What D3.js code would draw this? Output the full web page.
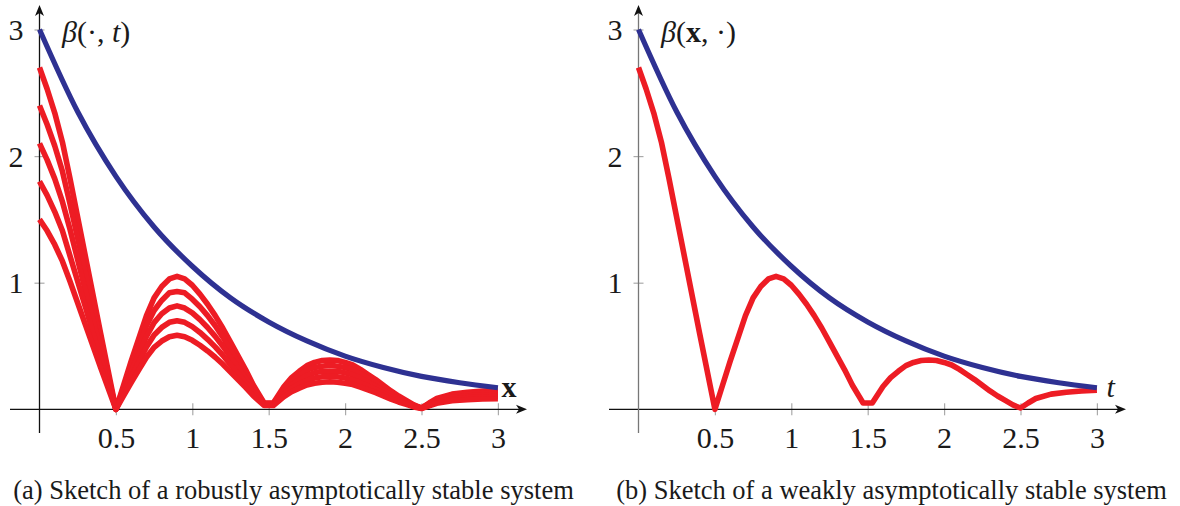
<!DOCTYPE html>
<html><head><meta charset="utf-8">
<script src="https://cdn.jsdelivr.net/npm/d3@7"></script>
<style>body{margin:0;background:#fff;} svg{display:block;}</style>
</head><body>
<svg id="chart" width="1180" height="506"></svg>
<script>
// ---------- data ----------
const tGrid = [0, 0.05, 0.1, 0.15, 0.2, 0.3, 0.4, 0.5,
  0.55, 0.6, 0.65, 0.7, 0.75, 0.8, 0.85, 0.9, 0.95, 1.0, 1.05, 1.1, 1.15, 1.2, 1.25, 1.3, 1.35, 1.4,
  1.47, 1.53,
  1.6, 1.65, 1.7, 1.75, 1.8, 1.85, 1.9, 1.95, 2.0, 2.05, 2.1, 2.15, 2.2, 2.25, 2.3, 2.35, 2.4, 2.45, 2.5, 2.55, 2.6,
  2.7, 2.8, 2.9, 3.0];

const robust1 = [2.70, 2.53, 2.34, 2.11, 1.82, 1.21, 0.60, 0.00,
  0.19, 0.38, 0.56, 0.74, 0.88, 0.97, 1.03, 1.05, 1.03, 0.98, 0.91, 0.83, 0.74, 0.64, 0.53, 0.42, 0.31, 0.19,
  0.05, 0.05,
  0.18, 0.25, 0.30, 0.345, 0.37, 0.385, 0.39, 0.385, 0.37, 0.35, 0.315, 0.275, 0.235, 0.19, 0.145, 0.105, 0.07, 0.035, 0.01, 0.05, 0.085,
  0.12, 0.135, 0.145, 0.15];
const robust2 = [2.40, 2.25, 2.08, 1.88, 1.62, 1.08, 0.53, 0.00,
  0.17, 0.34, 0.50, 0.66, 0.78, 0.86, 0.92, 0.93, 0.92, 0.87, 0.81, 0.74, 0.66, 0.57, 0.47, 0.37, 0.28, 0.17,
  0.045, 0.045,
  0.16, 0.22, 0.27, 0.31, 0.33, 0.34, 0.35, 0.34, 0.33, 0.31, 0.28, 0.245, 0.21, 0.17, 0.13, 0.093, 0.062, 0.031, 0.01, 0.044, 0.076,
  0.107, 0.12, 0.129, 0.133];
const robust3 = [2.10, 1.97, 1.82, 1.64, 1.42, 0.94, 0.47, 0.00,
  0.148, 0.296, 0.436, 0.576, 0.685, 0.755, 0.80, 0.817, 0.80, 0.762, 0.708, 0.646, 0.576, 0.498, 0.412, 0.327, 0.241, 0.148,
  0.04, 0.04,
  0.14, 0.195, 0.233, 0.268, 0.288, 0.30, 0.303, 0.30, 0.288, 0.272, 0.245, 0.214, 0.183, 0.148, 0.113, 0.082, 0.054, 0.027, 0.01, 0.039, 0.066,
  0.093, 0.105, 0.113, 0.117];
const robust4 = [1.80, 1.69, 1.56, 1.41, 1.21, 0.81, 0.40, 0.00,
  0.127, 0.253, 0.373, 0.493, 0.587, 0.647, 0.687, 0.70, 0.687, 0.653, 0.607, 0.553, 0.493, 0.427, 0.353, 0.28, 0.207, 0.127,
  0.035, 0.035,
  0.12, 0.167, 0.20, 0.23, 0.247, 0.257, 0.26, 0.257, 0.247, 0.233, 0.21, 0.183, 0.157, 0.127, 0.097, 0.07, 0.047, 0.023, 0.008, 0.033, 0.057,
  0.08, 0.09, 0.097, 0.10];
const robust5 = [1.50, 1.41, 1.30, 1.17, 1.01, 0.67, 0.33, 0.00,
  0.106, 0.211, 0.311, 0.411, 0.489, 0.539, 0.573, 0.584, 0.573, 0.545, 0.506, 0.461, 0.411, 0.356, 0.295, 0.234, 0.172, 0.106,
  0.03, 0.03,
  0.10, 0.139, 0.167, 0.192, 0.206, 0.214, 0.217, 0.214, 0.206, 0.195, 0.175, 0.153, 0.131, 0.106, 0.081, 0.058, 0.039, 0.019, 0.006, 0.028, 0.047,
  0.067, 0.075, 0.081, 0.083];
const weak = [2.70, 2.53, 2.34, 2.11, 1.82, 1.21, 0.60, 0.00,
  0.19, 0.38, 0.56, 0.74, 0.88, 0.97, 1.03, 1.05, 1.03, 0.98, 0.91, 0.83, 0.74, 0.64, 0.53, 0.42, 0.31, 0.19,
  0.05, 0.05,
  0.18, 0.25, 0.30, 0.345, 0.37, 0.385, 0.39, 0.385, 0.37, 0.35, 0.315, 0.275, 0.235, 0.19, 0.145, 0.105, 0.07, 0.035, 0.01, 0.05, 0.085,
  0.12, 0.135, 0.145, 0.15];

const tBound = [0, 0.25, 0.5, 0.75, 1.0, 1.25, 1.5, 1.75, 2.0, 2.25, 2.5, 2.75, 3.0];
const bound  = [3.00, 2.35, 1.84, 1.44, 1.13, 0.88, 0.69, 0.54, 0.42, 0.33, 0.26, 0.21, 0.17];

const xTicks = [0.5, 1, 1.5, 2, 2.5, 3];
const xTickLabels = ["0.5", "1", "1.5", "2", "2.5", "3"];
const yTicks = [1, 2, 3];
const yTickLabels = ["1", "2", "3"];
const captions = ["(a) Sketch of a robustly asymptotically stable system",
                  "(b) Sketch of a weakly asymptotically stable system"];

// ---------- drawing ----------
const RED = "#ed1c24", BLUE = "#2e3192";
const FONT = "'Liberation Serif', 'Times New Roman', serif";
const svg = d3.select("#chart");
const yScale = d3.scaleLinear().domain([0, 3]).range([409.3, 29.5]);
const y0 = yScale(0);

const panels = [
  { x0: 39.5, curves: [robust1, robust2, robust3, robust4, robust5], yAxisColor: "#111",
    caption: captions[0], capCenter: 293.5, capWidth: 561, xLabel: "x" },
  { x0: 638.5, curves: [weak], yAxisColor: "#777",
    caption: captions[1], capCenter: 891.5, capWidth: 551, xLabel: "t" }
];

panels.forEach((p, pi) => {
  const g = svg.append("g");
  const xScale = d3.scaleLinear().domain([0, 3]).range([p.x0, p.x0 + 458.4]);

  // x axis ticks + labels (via d3 axis)
  const xAxis = d3.axisBottom(xScale).tickValues(xTicks)
    .tickFormat((d, i) => xTickLabels[i]).tickSizeOuter(0);
  const gx = g.append("g").attr("transform", `translate(0,${y0})`).call(xAxis);
  gx.select(".domain").remove();
  gx.selectAll(".tick line").attr("y1", -6).attr("y2", 6).attr("stroke", "#aaa").attr("stroke-width", 1.2);
  gx.selectAll(".tick text").attr("y", 38.5).attr("dy", null)
    .attr("font-family", FONT).attr("font-size", 30).attr("fill", "#1a1a1a");

  // y axis ticks + labels
  const yAxis = d3.axisLeft(yScale).tickValues(yTicks)
    .tickFormat((d, i) => yTickLabels[i]).tickSizeOuter(0);
  const gy = g.append("g").attr("transform", `translate(${p.x0},0)`).call(yAxis);
  gy.select(".domain").remove();
  gy.selectAll(".tick line").attr("x1", -5).attr("x2", 5).attr("stroke", "#aaa").attr("stroke-width", 1.2);
  gy.selectAll(".tick text").attr("x", -16).attr("dy", "0.34em")
    .attr("font-family", FONT).attr("font-size", 30).attr("fill", "#1a1a1a");

  // axis lines with arrows
  const xStart = p.x0 - 29.5, xTip = p.x0 + 487.5;
  g.append("line").attr("x1", xStart).attr("x2", xTip - 6).attr("y1", y0).attr("y2", y0)
    .attr("stroke", "#111").attr("stroke-width", 1.3);
  g.append("path").attr("d", `M${xTip},${y0} L${xTip - 11},${y0 - 4.5} L${xTip - 8},${y0} L${xTip - 11},${y0 + 4.5} Z`)
    .attr("fill", "#111");
  const yTop = 5, yBottom = 433;
  g.append("line").attr("x1", p.x0).attr("x2", p.x0).attr("y1", yBottom).attr("y2", yTop + 6)
    .attr("stroke", p.yAxisColor).attr("stroke-width", 1.3);
  g.append("path").attr("d", `M${p.x0},${yTop} L${p.x0 - 4.5},${yTop + 11} L${p.x0},${yTop + 8} L${p.x0 + 4.5},${yTop + 11} Z`)
    .attr("fill", "#111");

  // red curves
  const redLine = d3.line().x((d, i) => xScale(tGrid[i])).y(d => yScale(d)).curve(d3.curveLinear);
  g.append("g").selectAll("path").data(p.curves).join("path")
    .attr("d", d => redLine(d))
    .attr("fill", "none").attr("stroke", RED).attr("stroke-width", 5.6)
    .attr("stroke-linejoin", "round").attr("stroke-linecap", "butt");

  // blue bound
  const blueLine = d3.line().x((d, i) => xScale(tBound[i])).y(d => yScale(d)).curve(d3.curveMonotoneX);
  g.append("path").attr("d", blueLine(bound)).attr("fill", "none")
    .attr("stroke", BLUE).attr("stroke-width", 5.2).attr("stroke-linecap", "butt");

  // curve label at top
  const lab = g.append("text").attr("x", p.x0 + 22.5).attr("y", 42)
    .attr("font-family", FONT).attr("font-size", 30).attr("fill", "#1a1a1a");
  lab.append("tspan").attr("font-style", "italic").text("β");
  lab.append("tspan").text("(");
  if (pi === 0) {
    lab.append("tspan").text("·, ");
    lab.append("tspan").attr("font-style", "italic").text("t");
  } else {
    lab.append("tspan").attr("font-weight", "bold").text("x");
    lab.append("tspan").text(", ·");
  }
  lab.append("tspan").text(")");

  // axis end label
  const xl = g.append("text").attr("x", p.x0 + (pi === 0 ? 462 : 468)).attr("y", 397)
    .attr("font-family", FONT).attr("font-size", 30).attr("fill", "#1a1a1a")
    .text(p.xLabel);
  if (pi === 0) xl.attr("font-weight", "bold"); else xl.attr("font-style", "italic");

  // caption
  const cap = g.append("text").attr("x", p.capCenter).attr("y", 499).attr("text-anchor", "middle")
    .attr("font-family", FONT).attr("font-size", 24).attr("fill", "#1a1a1a")
    .text(p.caption);
  const w = cap.node().getComputedTextLength();
  cap.attr("font-size", 24 * p.capWidth / w);
});
</script>
</body></html>
